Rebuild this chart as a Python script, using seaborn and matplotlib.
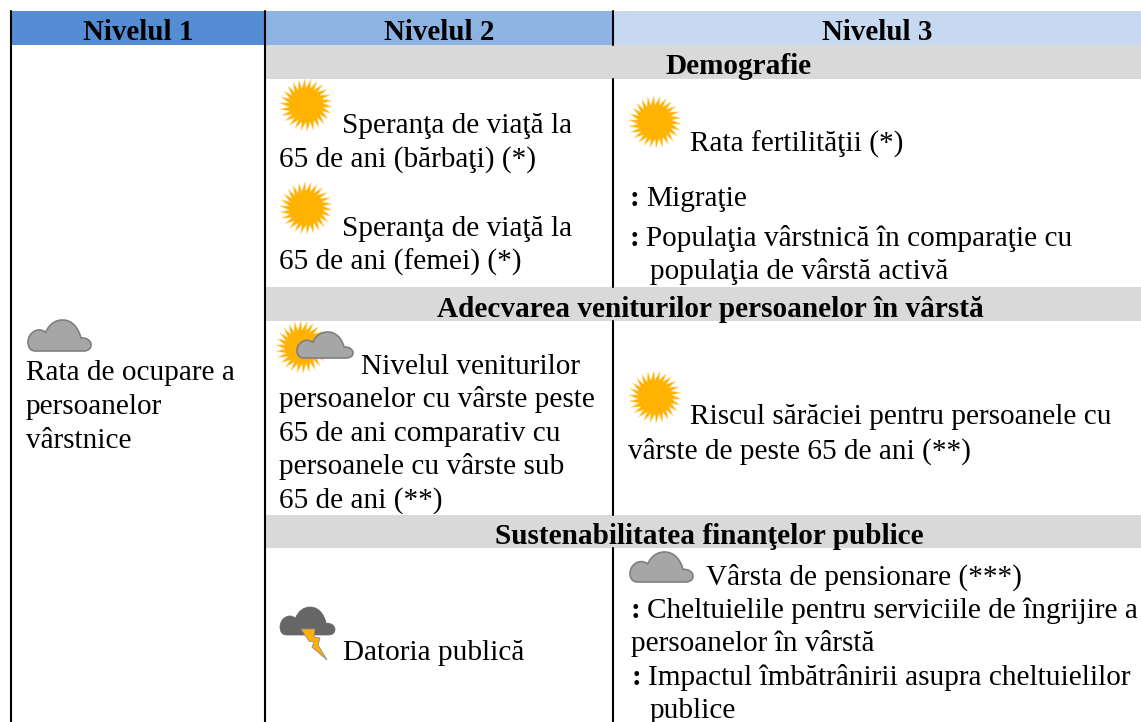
import matplotlib
matplotlib.use("Agg")
import matplotlib.pyplot as plt
import numpy as np
import pandas as pd
import seaborn as sns
from matplotlib.patches import PathPatch, Polygon, Rectangle
from matplotlib.path import Path

# Table content
header_labels = ["Nivelul 1", "Nivelul 2", "Nivelul 3"]
section_labels = ["Demografie",
                  "Adecvarea veniturilor persoanelor în vârstă",
                  "Sustenabilitatea finanţelor publice"]
level1_lines = ["Rata de ocupare a", "persoanelor", "vârstnice"]
level2_lines = ["Speranţa de viaţă la", "65 de ani (bărbaţi) (*)",
                "Speranţa de viaţă la", "65 de ani (femei) (*)",
                "Nivelul veniturilor", "persoanelor cu vârste peste",
                "65 de ani comparativ cu", "persoanele cu vârste sub",
                "65 de ani (**)", "Datoria publică"]
level3_lines = ["Rata fertilităţii (*)", "Riscul sărăciei pentru persoanele cu",
                "vârste de peste 65 de ani (**)", "Vârsta de pensionare (***)",
                "persoanelor în vârstă"]
bullet_lines = ["Migraţie", "Populaţia vârstnică în comparaţie cu",
                "Cheltuielile pentru serviciile de îngrijire a",
                "Impactul îmbătrânirii asupra cheltuielilor"]
hanging_lines = ["populaţia de vârstă activă", "publice"]

# Layout, in pixels of the 1141x722 picture
header_colors = ["#548DD4", "#8DB3E2", "#C6D9F0"]
col_edges = [11, 265, 613, 1141]
header_x = [138, 439, 877]
section_bands = [(45, 79), (287, 321), (515, 548)]
section_x = [738, 710, 709]
section_y = [74, 317, 544]
level1_pos = [(26, 380), (26, 414), (26, 448)]
level2_pos = [(342, 133), (279, 167), (342, 236), (279, 270), (361, 374),
              (279, 407), (279, 441), (279, 474), (279, 508), (343, 660)]
level3_pos = [(690, 152), (690, 424), (628, 459), (706, 585), (631, 651)]
bullet_pos = [(630, 206), (630, 246), (631, 618), (632, 685)]
hanging_pos = [(650, 279), (650, 718)]
sun_pos = [(306, 105), (306, 208), (655, 122), (655, 397), (302, 347)]
cloud_boxes = [(28, 320, 63, 31), (630, 552, 63, 30), (297, 332, 56, 26)]

sns.set_theme(style="white")
plt.rcParams['font.family'] = ['Liberation Serif', 'DejaVu Serif']
FONT = 21.1
BOLD_FONT = 20.9

fig = plt.figure(figsize=(11.41, 7.22), dpi=100)
ax = fig.add_axes([0, 0, 1, 1])


def draw_sun(cx, cy, r=26):
    n = 52
    idx = np.arange(n)
    ang = idx * 2 * np.pi / n
    rad = np.where(idx % 2 == 0, r, r * 0.66)
    # rays lean a little, so the disc looks like it is turning
    ang = ang + np.where(idx % 2 == 0, 0.08, 0)
    pts = np.column_stack([cx + rad * np.cos(ang), cy + rad * np.sin(ang)])
    ax.add_patch(Polygon(pts, closed=True, fc="#FFB300", ec="#FFD98A", lw=0.4, zorder=3))


def cloud_path(x, y, w, h):
    shape = [(0.12, 1.0), (0.03, 1.0), (0.0, 0.85), (0.0, 0.72),
             (0.0, 0.50), (0.08, 0.32), (0.18, 0.32),
             (0.22, 0.32), (0.26, 0.36), (0.28, 0.40),
             (0.34, 0.12), (0.44, 0.0), (0.55, 0.0),
             (0.70, 0.0), (0.80, 0.25), (0.84, 0.58),
             (0.92, 0.56), (1.0, 0.66), (1.0, 0.80),
             (1.0, 0.93), (0.95, 1.0), (0.88, 1.0),
             (0.12, 1.0), (0.12, 1.0)]
    codes = [Path.MOVETO] + [Path.CURVE4] * 21 + [Path.LINETO, Path.CLOSEPOLY]
    verts = [(x + a * w, y + b * h) for a, b in shape]
    return Path(verts, codes)


# Header and section bands
for i, color in enumerate(header_colors):
    ax.add_patch(Rectangle((col_edges[i], 11), col_edges[i + 1] - col_edges[i], 34,
                           fc=color, ec="none", zorder=1))
for top, bottom in section_bands:
    ax.add_patch(Rectangle((col_edges[1], top), col_edges[3] - col_edges[1], bottom - top,
                           fc="#D9D9D9", ec="none", zorder=1))

# Column rules
rule_segments = [(col_edges[0], 11, 722), (col_edges[1], 11, 722),
                 (col_edges[2], 11, 45), (col_edges[2], 79, 287),
                 (col_edges[2], 321, 515), (col_edges[2], 548, 722)]
rules = pd.DataFrame(
    [{"rule": i, "x": x, "y": y} for i, (x, y0, y1) in enumerate(rule_segments) for y in (y0, y1)]
)
sns.lineplot(data=rules, x="x", y="y", units="rule", estimator=None, sort=False,
             color="black", linewidth=1.5, ax=ax, zorder=2)

# Text
for label, x in zip(header_labels, header_x):
    ax.text(x, 40, label, ha="center", va="baseline", fontsize=BOLD_FONT, fontweight="bold",
            color="black", zorder=4)
for label, x, y in zip(section_labels, section_x, section_y):
    ax.text(x, y, label, ha="center", va="baseline", fontsize=FONT, fontweight="bold",
            color="black", zorder=4)
for lines, positions in [(level1_lines, level1_pos), (level2_lines, level2_pos),
                         (level3_lines, level3_pos), (hanging_lines, hanging_pos)]:
    for label, (x, y) in zip(lines, positions):
        ax.text(x, y, label, va="baseline", fontsize=FONT, color="black", zorder=4)
for label, (x, y) in zip(bullet_lines, bullet_pos):
    ax.text(x, y, ":", va="baseline", fontsize=FONT, fontweight="bold", color="black", zorder=4)
    ax.text(x + 16, y, label, va="baseline", fontsize=FONT, color="black", zorder=4)

# Weather icons
for cx, cy in sun_pos:
    draw_sun(cx, cy)
for x, y, w, h in cloud_boxes:
    ax.add_patch(PathPatch(cloud_path(x, y, w, h), fc="#A6A6A6", ec="#7F7F7F", lw=1.2, zorder=5))

# Storm cloud with its bolt
ax.add_patch(PathPatch(cloud_path(280, 607, 55, 28), fc="#666666", ec="#666666", lw=0.5, zorder=5))
bolt = [(301, 629), (315, 629), (314, 637), (320, 638), (318, 645), (327, 660),
        (312, 647), (314, 642), (309, 641)]
ax.add_patch(Polygon(bolt, closed=True, fc="#FFB000", ec="#8C8C8C", lw=0.6, zorder=6))

ax.set_xlim(0, 1141)
ax.set_ylim(722, 0)
ax.axis("off")

fig.savefig("out.png", dpi=100, facecolor="white")
